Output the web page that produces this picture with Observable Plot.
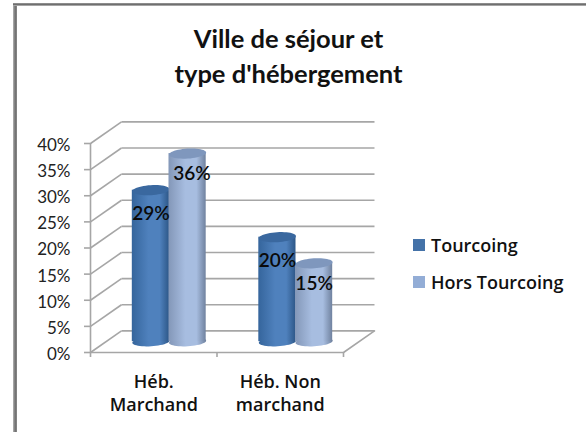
<!DOCTYPE html>
<html lang="fr">
<head>
<meta charset="utf-8">
<script src="https://cdn.jsdelivr.net/npm/d3@7"></script>
<script src="https://cdn.jsdelivr.net/npm/@observablehq/plot@0.6"></script>
<style>
  html, body { margin: 0; padding: 0; background: #fff; }
  #page { position: relative; width: 586px; height: 432px; overflow: hidden; font-family: Lato, sans-serif; color: #111; }
  #page svg { position: absolute; left: 0; top: 0; }
  #edgeL { position: absolute; left: 13px; top: 3px; width: 4px; height: 429px; background: linear-gradient(90deg,#b5b5b5,#6f6f6f 55%,#8a8a8a); }
  #edgeT { position: absolute; left: 13px; top: 3px; width: 573px; height: 3px; background: linear-gradient(180deg,#9a9a9a,#6f6f6f 50%,#c0c0c0); }
  #title { position: absolute; left: 0; top: 21px; width: 577px; text-align: center; font-size: 25.5px; line-height: 35px; font-weight: 700; color: #111; }
  .leg { position: absolute; left: 413px; font-family: "Open Sans", sans-serif; font-size: 18px; font-weight: 600; line-height: 20px; white-space: nowrap; }
  .leg i { position: absolute; left: 0; top: 4px; width: 12px; height: 12px; }
  .leg span { position: absolute; left: 18px; top: 0; }
</style>
</head>
<body>
<div id="page"></div>
<script>
const titleLines = ["Ville de séjour et", "type d'hébergement"];
const categories = ["Héb.\nMarchand", "Héb. Non\nmarchand"];
const seriesNames = ["Tourcoing", "Hors Tourcoing"];
const tourcoing = [29, 20];
const horsTourcoing = [36, 15];
const tickValues = [0, 5, 10, 15, 20, 25, 30, 35, 40];

const seriesValues = [tourcoing, horsTourcoing];
const seriesColors = [
  {edge: "#35659c", mid: "#4f81bd", dark: "#2d5788", top: "#3a689f", swatch: "#4472a8"},
  {edge: "#8397b8", mid: "#a7bde0", dark: "#70829f", top: "#7f97bd", swatch: "#93add6"}
];

// Oblique depth of the 3D box, in data units
const depthX = 0.245, depthY = 4.14;
const barWidth = 0.29;

const ellipse = (rx, ry, tilt) => ({
  draw(ctx) {
    const c = Math.cos(tilt), s = Math.sin(tilt), n = 48;
    for (let i = 0; i < n; ++i) {
      const a = 2 * Math.PI * i / n;
      const ex = rx * Math.cos(a), ey = ry * Math.sin(a);
      const px = ex * c - ey * s, py = ex * s + ey * c;
      i ? ctx.lineTo(px, py) : ctx.moveTo(px, py);
    }
    ctx.closePath();
  }
});
const tilt = -0.06;

const rows = seriesNames.flatMap((name, s) => categories.map((cat, c) => ({
  s, c, name, cat, value: seriesValues[s][c],
  xc: c + 0.5 + depthX / 2 + (s === 0 ? -barWidth / 2 : barWidth / 2)
})));

const grid = "#a6a6a6", gw = 1.6;

const cylinderMarks = seriesNames.flatMap((name, s) => {
  const d = rows.filter(r => r.s === s);
  return [
    Plot.dot(d, {x: "xc", y: depthY / 2, symbol: ellipse(18.6, 4.6, tilt), fill: `url(#cyl${s})`, r: 5}),
    Plot.rect(d, {
      x1: r => r.xc - barWidth / 2 - 0.002, x2: r => r.xc + barWidth / 2 + 0.002,
      y1: depthY / 2, y2: r => r.value + depthY / 2, fill: `url(#cyl${s})`
    }),
    Plot.dot(d, {x: "xc", y: r => r.value + depthY / 2, symbol: ellipse(18.6, 5, tilt), fill: seriesColors[s].top, r: 5})
  ];
});

const labelMarks = seriesNames.map((name, s) => Plot.text(rows.filter(r => r.s === s), {
  x: r => r.xc + (r.value === 36 ? 0.035 : 0),
  y: r => r.value + depthY / 2,
  dy: s === 0 ? 24 : 20.5,
  text: r => r.value + "%",
  fontSize: 19, fill: "#0a0a0a", fontWeight: 600
}));

const plot = Plot.plot({
  width: 586, height: 432,
  marginLeft: 90, marginRight: 243, marginTop: 143, marginBottom: 80,
  style: {fontFamily: "Lato, sans-serif", background: "transparent", color: "#111", overflow: "visible"},
  x: {domain: [0, 2], axis: null},
  y: {domain: [0, 40], axis: null},
  marks: [
    // floor
    Plot.line([[0, 0], [2, 0], [2 + depthX, depthY]], {x: "0", y: "1", stroke: grid, strokeWidth: gw}),
    // back-wall gridlines
    Plot.link(tickValues, {x1: depthX, x2: 2 + depthX, y1: v => v + depthY, y2: v => v + depthY, stroke: grid, strokeWidth: gw}),
    // side-wall gridlines
    Plot.link(tickValues, {x1: 0, x2: depthX, y1: v => v, y2: v => v + depthY, stroke: grid, strokeWidth: gw}),
    // front vertical axis line
    Plot.ruleX([0], {y1: 0, y2: 40, stroke: grid, strokeWidth: gw}),
    Plot.axisY(tickValues, {anchor: "left", tickSize: 6, text: null, stroke: grid, strokeWidth: gw, label: null}),
    Plot.axisX([0, 1, 2], {anchor: "bottom", tickSize: 5, text: null, stroke: grid, strokeWidth: gw, label: null}),
    Plot.text(tickValues, {x: 0, y: v => v, dx: -20, dy: 2, textAnchor: "end", text: v => v + "%", fontSize: 17, fill: "#222"}),
    ...cylinderMarks,
    ...labelMarks,
    Plot.text(categories, {
      x: (d, i) => i + 0.5, y: 0, dy: 40,
      text: d => d, fontFamily: "Open Sans, sans-serif", fontSize: 18, fontWeight: 600, lineHeight: 1.28, fill: "#111"
    })
  ]
});

const defs = d3.select(plot).append("defs");
seriesColors.forEach((col, s) => {
  const g = defs.append("linearGradient").attr("id", `cyl${s}`).attr("x1", 0).attr("x2", 1).attr("y1", 0).attr("y2", 0);
  [[0, col.edge], [0.45, col.mid], [0.75, col.mid], [1, col.dark]].forEach(([o, c]) =>
    g.append("stop").attr("offset", o).attr("stop-color", c));
});

const page = document.getElementById("page");
page.append(plot);
page.insertAdjacentHTML("beforeend",
  `<div id="edgeL"></div><div id="edgeT"></div>` +
  `<div id="title">${titleLines.join("<br>")}</div>` +
  seriesNames.map((n, s) => `<div class="leg" style="top:${s === 0 ? 235 : 272}px"><i style="background:${seriesColors[s].swatch}"></i><span>${n}</span></div>`).join(""));
</script>
</body>
</html>
